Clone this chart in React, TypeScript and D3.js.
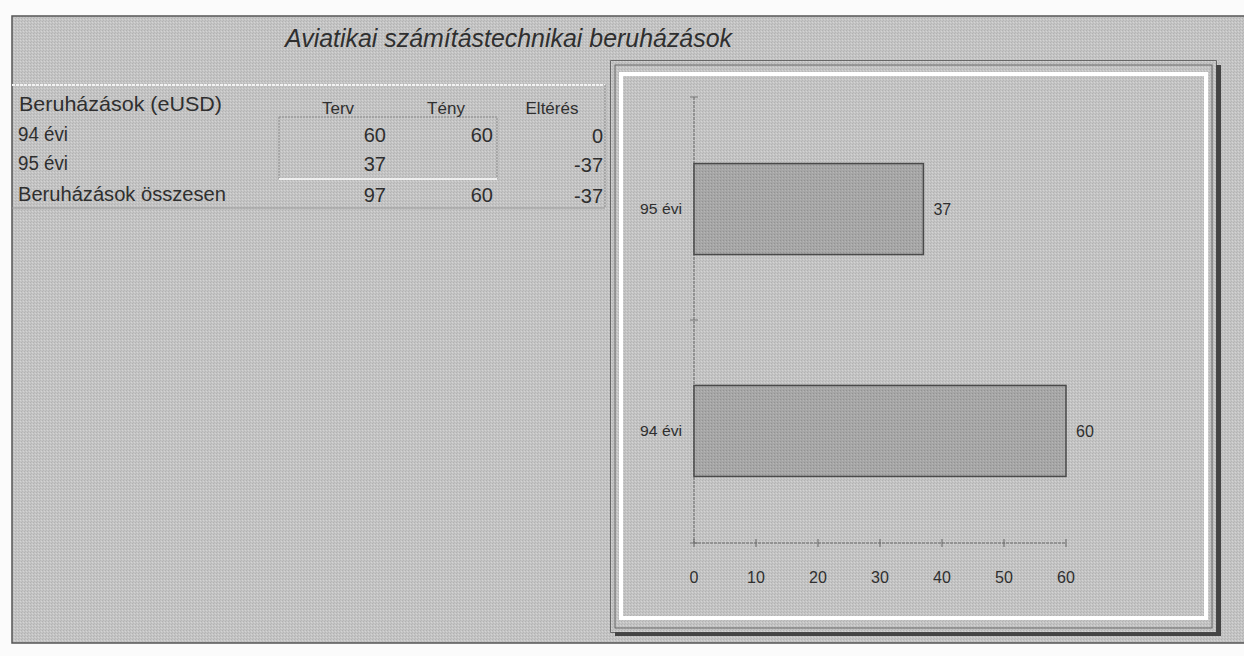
import React from 'react';
import * as d3 from 'd3';

// table data (eUSD)
const rowLabels = ['94 évi', '95 évi', 'Beruházások összesen'];
const columnLabels = ['Terv', 'Tény', 'Eltérés'];
const tervValues = ['60', '37', '97'];
const tenyValues = ['60', '', '60'];
const elteresValues = ['0', '-37', '-37'];

// chart data
const categories = ['94 évi', '95 évi'];
const planned = [60, 37];
const xTicks = [0, 10, 20, 30, 40, 50, 60];

const W = 1244;
const H = 656;
const FONT = '"Liberation Sans", Arial, sans-serif';
const INK = '#2f2f2f';
const BG = '#c4c4c4';

const App: React.FC = () => {
  const x = d3.scaleLinear().domain([0, 60]).range([694, 1066]);
  const y = d3.scaleBand<string>()
    .domain([...categories].reverse())
    .range([97, 543])
    .paddingInner(0.59)
    .paddingOuter(0.3);

  const bars = categories.map((c, i) => ({ cat: c, value: planned[i] }));

  // table columns: right edges of value cells
  const colRight = [386, 493, 603];
  const colCenter = [338, 446, 552];
  const rowBase = [141, 170, 201];

  return (
    <svg width={W} height={H} style={{ position: 'absolute', left: 0, top: 0 }}
      fontFamily={FONT}>
      <defs>
        <pattern id="dither" width="3" height="3" patternUnits="userSpaceOnUse">
          <rect width="3" height="3" fill={BG} />
          <rect x="0" y="0" width="1" height="1" fill="#b2b2b2" />
          <rect x="2" y="1" width="1" height="1" fill="#d4d4d4" />
          <rect x="1" y="2" width="1" height="1" fill="#b7b7b7" />
        </pattern>
        <pattern id="barDither" width="3" height="3" patternUnits="userSpaceOnUse">
          <rect width="3" height="3" fill="#a6a6a6" />
          <rect x="0" y="0" width="1" height="1" fill="#929292" />
          <rect x="2" y="1" width="1" height="1" fill="#b6b6b6" />
        </pattern>
      </defs>

      <rect width={W} height={H} fill="#fbfbfb" />

      {/* sheet area */}
      <rect x={12} y={16} width={W} height={627} fill="url(#dither)" stroke="#555" strokeWidth={1.5} />

      {/* title */}
      <text x={285} y={47} fontSize={25} fontStyle="italic" fill={INK}
        textLength={447} lengthAdjust="spacingAndGlyphs">
        Aviatikai számítástechnikai beruházások
      </text>

      {/* table */}
      <line x1={12} x2={605} y1={85} y2={85} stroke="#f2f2f2" strokeWidth={2} strokeDasharray="3 1" />
      <line x1={605} x2={605} y1={85} y2={208} stroke="#8a8a8a" strokeWidth={1} strokeDasharray="2 1" />
      <line x1={12} x2={605} y1={208} y2={208} stroke="#9a9a9a" strokeWidth={1} />
      <rect x={279} y={117} width={218} height={62} fill="none" stroke="#8a8a8a" strokeWidth={1} strokeDasharray="2 1" />
      <line x1={279} x2={497} y1={179} y2={179} stroke="#efefef" strokeWidth={2} />

      <text x={19} y={111} fontSize={21} fill={INK} textLength={203} lengthAdjust="spacingAndGlyphs">
        Beruházások (eUSD)
      </text>
      {columnLabels.map((c, i) => (
        <text key={c} x={colCenter[i]} y={114} fontSize={17} fill={INK} textAnchor="middle">{c}</text>
      ))}
      {rowLabels.map((r, i) => (
        <text key={r} x={18} y={rowBase[i]} fontSize={20} fill={INK}
          textLength={i === 2 ? 208 : 50} lengthAdjust="spacingAndGlyphs">{r}</text>
      ))}
      {[tervValues, tenyValues, elteresValues].map((col, ci) =>
        col.map((v, ri) => (
          <text key={`${ci}-${ri}`} x={colRight[ci]} y={rowBase[ri] + (ci === 2 ? 2 : 1)}
            fontSize={20} fill={INK} textAnchor="end">{v}</text>
        ))
      )}

      {/* chart panel */}
      <rect x={615} y={65} width={606} height={571} fill="#444" />
      <rect x={611} y={61} width={605} height={571} fill={BG} stroke="#4a4a4a" strokeWidth={1.5} />
      <rect x={611} y={61} width={605} height={571} fill="url(#dither)" />
      <rect x={615} y={65} width={597} height={563} fill="none" stroke="#666" strokeWidth={1} />
      <rect x={621} y={74} width={585} height={544} fill="none" stroke="#ffffff" strokeWidth={4} />

      {/* axes */}
      <line x1={x(0)} x2={x(0)} y1={97} y2={543} stroke="#666" strokeWidth={1} strokeDasharray="3 1" />
      <line x1={x(0)} x2={x(60)} y1={543} y2={543} stroke="#666" strokeWidth={1} strokeDasharray="3 1" />
      {xTicks.map(t => (
        <g key={t}>
          <line x1={x(t)} x2={x(t)} y1={539} y2={547} stroke="#666" strokeWidth={1} />
          <text x={x(t)} y={583} fontSize={16} fill={INK} textAnchor="middle">{t}</text>
        </g>
      ))}
      {[97, 320, 543].map(v => (
        <line key={v} x1={x(0) - 4} x2={x(0) + 4} y1={v} y2={v} stroke="#777" strokeWidth={1} />
      ))}

      {/* bars */}
      {bars.map(b => {
        const top = y(b.cat) as number;
        const bw = y.bandwidth();
        return (
          <g key={b.cat}>
            <rect x={x(0)} y={top} width={x(b.value) - x(0)} height={bw}
              fill="url(#barDither)" stroke="#4a4a4a" strokeWidth={1.5} />
            <text x={x(0) - 12} y={top + bw / 2 + 5} fontSize={15} fill={INK} textAnchor="end"
              textLength={42} lengthAdjust="spacingAndGlyphs">{b.cat}</text>
            <text x={x(b.value) + 10} y={top + bw / 2 + 6} fontSize={16} fill={INK}>{b.value}</text>
          </g>
        );
      })}
    </svg>
  );
};

export default App;
